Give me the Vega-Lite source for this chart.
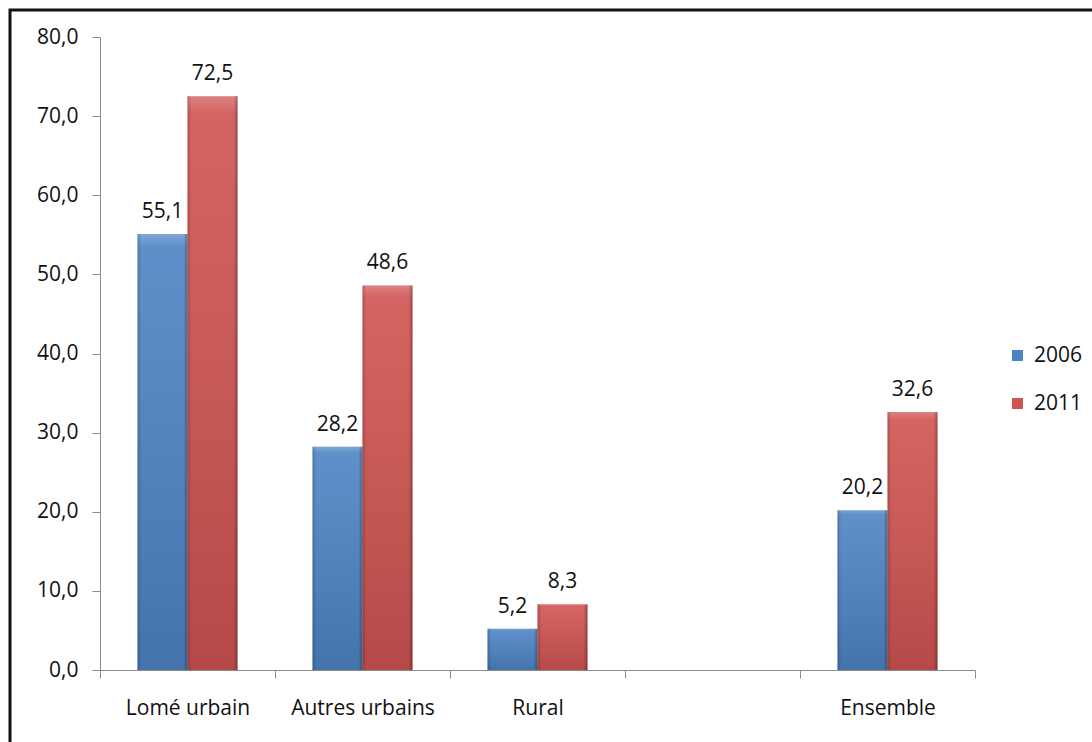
{
  "$schema": "https://vega.github.io/schema/vega-lite/v6.json",
  "width": 1100,
  "height": 750,
  "autosize": {"type": "none"},
  "padding": {"left": 10, "top": 10, "right": 0, "bottom": 0},
  "background": "white",
  "config": {
    "locale": {"number": {"decimal": ",", "thousands": " ", "grouping": [3], "currency": ["", " €"]}},
    "view": {"stroke": "#111111", "strokeWidth": 3},
    "font": "Open Sans",
    "axis": {
      "domainColor": "#8c8c8c",
      "tickColor": "#8c8c8c",
      "labelColor": "#111111",
      "labelFont": "Open Sans",
      "labelFontSize": 21,
      "grid": false,
      "title": null
    }
  },
  "data": {
    "values": [
      {"zone": "Lomé urbain", "annee": "2006", "taux": 55.1},
      {"zone": "Lomé urbain", "annee": "2011", "taux": 72.5},
      {"zone": "Autres urbains", "annee": "2006", "taux": 28.2},
      {"zone": "Autres urbains", "annee": "2011", "taux": 48.6},
      {"zone": "Rural", "annee": "2006", "taux": 5.2},
      {"zone": "Rural", "annee": "2011", "taux": 8.3},
      {"zone": "Ensemble", "annee": "2006", "taux": 20.2},
      {"zone": "Ensemble", "annee": "2011", "taux": 32.6}
    ]
  },
  "encoding": {
    "x": {
      "field": "zone",
      "type": "nominal",
      "sort": null,
      "scale": {
        "domain": ["Lomé urbain", "Autres urbains", "Rural", " ", "Ensemble"],
        "range": [90, 965],
        "paddingInner": 0,
        "paddingOuter": 0
      },
      "axis": {
        "orient": "bottom",
        "offset": -90,
        "labelAngle": 0,
        "tickBand": "extent",
        "tickSize": 8,
        "labelPadding": 19
      }
    },
    "y": {
      "field": "taux",
      "type": "quantitative",
      "scale": {"domain": [0, 80], "range": [660, 27], "nice": false, "zero": true},
      "axis": {
        "orient": "left",
        "offset": -90,
        "values": [0, 10, 20, 30, 40, 50, 60, 70, 80],
        "format": ".1f",
        "tickSize": 8,
        "labelPadding": 14
      }
    },
    "xOffset": {
      "field": "annee",
      "type": "nominal",
      "scale": {"paddingOuter": 0.75, "paddingInner": 0}
    }
  },
  "layer": [
    {
      "mark": {"type": "bar"},
      "encoding": {
        "color": {
          "field": "annee",
          "type": "nominal",
          "scale": {"domain": ["2006", "2011"], "range": ["#4d83c4", "#cf5351"]},
          "legend": {
            "orient": "none",
            "legendX": 997,
            "legendY": 335,
            "title": null,
            "symbolType": "square",
            "symbolSize": 120,
            "symbolStrokeWidth": 0,
            "labelFont": "Open Sans",
            "labelFontSize": 21,
            "labelColor": "#111111",
            "labelOffset": 6,
            "rowPadding": 26
          }
        }
      }
    },
    {
      "mark": {
        "type": "bar",
        "fill": {
          "x1": 0, "y1": 0, "x2": 0, "y2": 1,
          "gradient": "linear",
          "stops": [
            {"offset": 0, "color": "rgba(255,255,255,0.28)"},
            {"offset": 0.03, "color": "rgba(255,255,255,0.1)"},
            {"offset": 1, "color": "rgba(0,0,0,0.12)"}
          ]
        }
      }
    },
    {
      "mark": {
        "type": "bar",
        "fill": {
          "x1": 0, "y1": 0, "x2": 1, "y2": 0,
          "gradient": "linear",
          "stops": [
            {"offset": 0, "color": "rgba(0,0,0,0.18)"},
            {"offset": 0.08, "color": "rgba(0,0,0,0)"},
            {"offset": 0.92, "color": "rgba(0,0,0,0)"},
            {"offset": 1, "color": "rgba(0,0,0,0.28)"}
          ]
        }
      }
    },
    {
      "mark": {
        "type": "text",
        "baseline": "alphabetic",
        "dy": -16,
        "fontSize": 21,
        "color": "#111111"
      },
      "encoding": {
        "text": {"field": "taux", "type": "quantitative", "format": ".1f"}
      }
    }
  ]
}
